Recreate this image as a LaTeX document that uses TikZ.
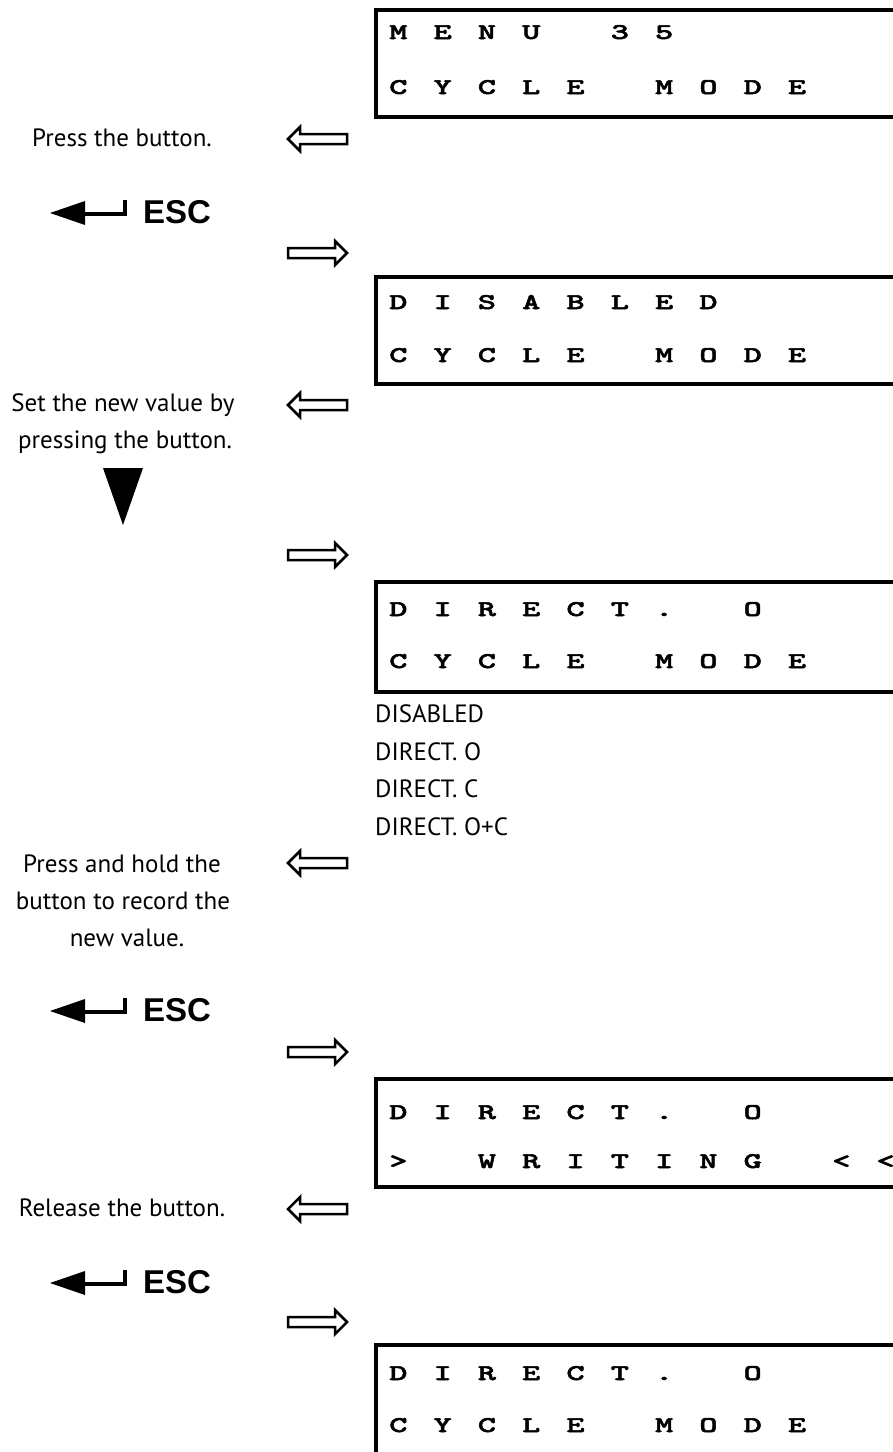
\documentclass[tikz,border=0pt]{standalone}
\usepackage{fontspec}
\setmainfont{PT Sans}
\newfontfamily\lcdfont{lmmonolt10-bold}[Extension=.otf,FakeStretch=1.55,FakeBold=2.2]
\newfontfamily\escfont{Liberation Sans}
\newcommand\lcdrow[1]{\foreach \c in {#1}{\makebox[44.3pt]{\c}}}
\tikzset{
  lcdbox/.style={line width=4pt},
  lcdtxt/.style={anchor=base west, inner sep=0pt, font=\lcdfont\fontsize{22.5}{22.5}\selectfont},
  lab/.style={anchor=base, inner sep=0pt, font=\fontsize{25}{30}\selectfont},
  lst/.style={anchor=base west, inner sep=0pt, font=\fontsize{25}{30}\selectfont},
  hollow/.style={line width=2.5pt, line join=miter},
  esctxt/.style={anchor=center, inner sep=0pt, font=\escfont\bfseries\fontsize{33}{33}\selectfont},
  larr/.pic={\draw[hollow] (-29.5,0) -- (-17.5,-12) -- (-17.5,-5) -- (29.5,-5) -- (29.5,5) -- (-17.5,5) -- (-17.5,12) -- cycle;},
  rarr/.pic={\draw[hollow] (29.5,0) -- (17.5,-12) -- (17.5,-5) -- (-29.5,-5) -- (-29.5,5) -- (17.5,5) -- (17.5,12) -- cycle;},
  escsym/.pic={
    \fill (-127,1) -- (-92,-11) -- (-92,13) -- cycle;
    \draw[line width=4pt, line join=miter] (-93,2) -- (-52,2) -- (-52,-12);
  },
}
\begin{document}
\begin{tikzpicture}[x=1pt,y=-1pt]
\clip (0,0) rectangle (893,1452);
\fill[white] (0,0) rectangle (893,1452);
% ---- box 1
\draw[lcdbox] (920,10) -- (376,10) -- (376,117) -- (920,117);
\node[lcdtxt] (b1a) at (376,39) {\lcdrow{M,E,N,U,{},3,5}};
\node[lcdtxt] (b1b) at (376,94) {\lcdrow{C,Y,C,L,E,{},M,O,D,E}};
\node[lab] (t1) at (122,146) {Press the button.};
\pic at (317.5,139) {larr};
\node[esctxt] (esc1) at (177,212) {ESC};
\pic at (177,212) {escsym};
\pic at (317.5,253) {rarr};
% ---- box 2
\draw[lcdbox] (920,277) -- (376,277) -- (376,384) -- (920,384);
\node[lcdtxt] (b2a) at (376,309) {\lcdrow{D,I,S,A,B,L,E,D}};
\node[lcdtxt] (b2b) at (376,362) {\lcdrow{C,Y,C,L,E,{},M,O,D,E}};
\node[lab] (t2a) at (123,411) {Set the new value by};
\node[lab] (t2b) at (125,448) {pressing the button.};
\pic at (317.5,405) {larr};
\fill (103,468) -- (143,468) -- (123,525) -- cycle;
\pic at (317.5,555) {rarr};
% ---- box 3
\draw[lcdbox] (920,582) -- (376,582) -- (376,692) -- (920,692);
\node[lcdtxt] (b3a) at (376,616) {\lcdrow{D,I,R,E,C,T,.,{},O}};
\node[lcdtxt] (b3b) at (376,668) {\lcdrow{C,Y,C,L,E,{},M,O,D,E}};
\node[lst] (l1) at (375,722.5) {DISABLED};
\node[lst] (l2) at (375,760.5) {DIRECT. O};
\node[lst] (l3) at (375,797.5) {DIRECT. C};
\node[lst] (l4) at (375,835.5) {DIRECT. O+C};
\node[lab] (t3a) at (122,872) {Press and hold the};
\node[lab] (t3b) at (123,909) {button to record the};
\node[lab] (t3c) at (127,946) {new value.};
\pic at (317.5,863) {larr};
\node[esctxt] (esc2) at (177,1010) {ESC};
\pic at (177,1010) {escsym};
\pic at (317.5,1052) {rarr};
% ---- box 4
\draw[lcdbox] (920,1079) -- (376,1079) -- (376,1187) -- (920,1187);
\node[lcdtxt] (b4a) at (376,1119) {\lcdrow{D,I,R,E,C,T,.,{},O}};
\node[lcdtxt] (b4b) at (376,1168) {\lcdrow{>,{},W,R,I,T,I,N,G,{},<,<}};
\node[lab] (t4) at (122,1216) {Release the button.};
\pic at (317.5,1209) {larr};
\node[esctxt] (esc3) at (177,1282) {ESC};
\pic at (177,1282) {escsym};
\pic at (317.5,1322) {rarr};
% ---- box 5
\draw[lcdbox] (920,1345) -- (376,1345) -- (376,1470);
\node[lcdtxt] (b5a) at (376,1380) {\lcdrow{D,I,R,E,C,T,.,{},O}};
\node[lcdtxt] (b5b) at (376,1432) {\lcdrow{C,Y,C,L,E,{},M,O,D,E}};
\end{tikzpicture}
\end{document}
